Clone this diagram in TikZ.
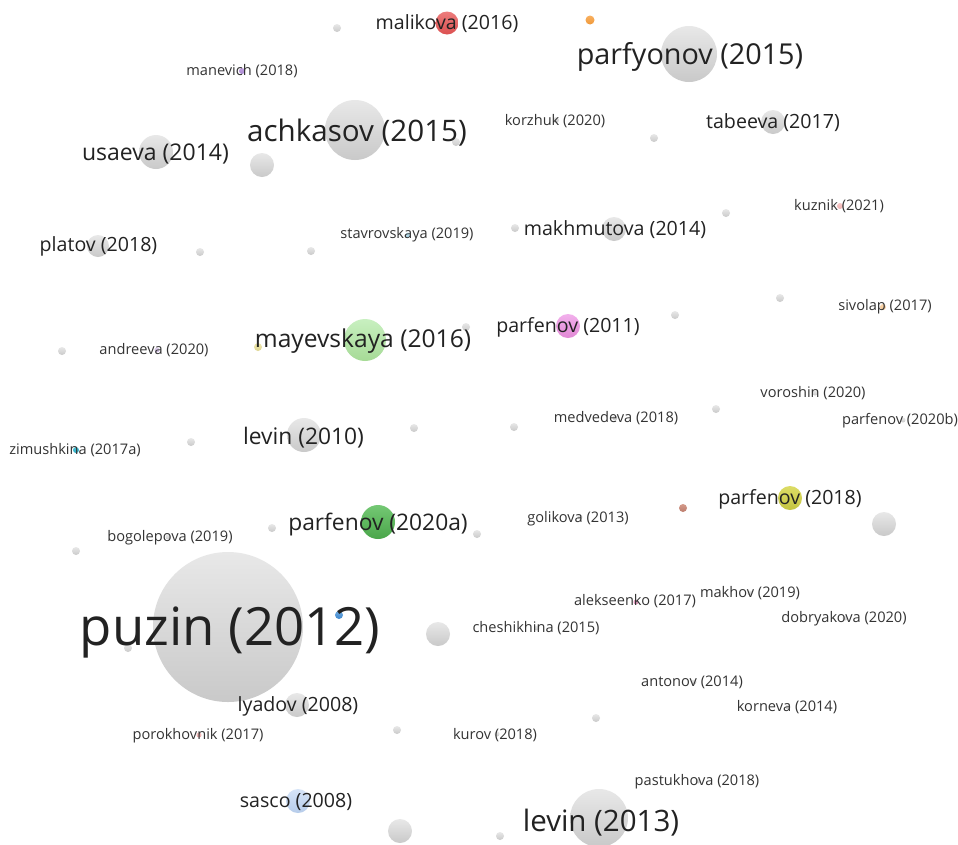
\documentclass[tikz,border=0pt]{standalone}
\usepackage{fontspec}
\setmainfont{Open Sans}
\definecolor{gTop}{HTML}{E8E8E8}
\definecolor{gBot}{HTML}{C9C9C9}
\definecolor{txtBig}{HTML}{222222}
\definecolor{txtSmall}{HTML}{333333}
\definecolor{mayT}{HTML}{C8F0C0}\definecolor{mayB}{HTML}{A6DA96}
\definecolor{yelT}{HTML}{EEE8B0}\definecolor{yelB}{HTML}{DED490}
\definecolor{andT}{HTML}{E0D0EE}\definecolor{andB}{HTML}{D0BEE2}
\definecolor{zimT}{HTML}{50C8DC}\definecolor{zimB}{HTML}{28A8C0}
\definecolor{p18T}{HTML}{DCDC66}\definecolor{p18B}{HTML}{C4C440}
\definecolor{brT}{HTML}{D49A8A}\definecolor{brB}{HTML}{BC7C6C}
\definecolor{p20T}{HTML}{74C874}\definecolor{p20B}{HTML}{4AA64A}
\definecolor{blT}{HTML}{6AA8E0}\definecolor{blB}{HTML}{3E86CC}
\definecolor{alT}{HTML}{E8A8C8}\definecolor{alB}{HTML}{D890B4}
\definecolor{poT}{HTML}{F4C0C0}\definecolor{poB}{HTML}{E8A8A8}
\definecolor{saT}{HTML}{D6E4F8}\definecolor{saB}{HTML}{B6CCEA}
\definecolor{maT}{HTML}{EC7C7C}\definecolor{maB}{HTML}{DC5050}
\definecolor{orT}{HTML}{F8B060}\definecolor{orB}{HTML}{F09838}
\definecolor{mvT}{HTML}{C0A0E0}\definecolor{mvB}{HTML}{A888D0}
\definecolor{kuT}{HTML}{F8C8C8}\definecolor{kuB}{HTML}{F0B0B0}
\definecolor{stT}{HTML}{C0E4F0}\definecolor{stB}{HTML}{A8D4E8}
\definecolor{siT}{HTML}{FAD8B0}\definecolor{siB}{HTML}{F4C490}
\definecolor{p11T}{HTML}{F2B0EC}\definecolor{p11B}{HTML}{E088D4}
\tikzset{
  bub/.style={circle, inner sep=0pt, draw=none, minimum size=#1},
  gbub/.style={bub=#1, top color=gTop, bottom color=gBot},
  cbub/.style n args={3}{bub=#1, top color=#2, bottom color=#3},
  lbl/.style={inner sep=0pt, text=txtBig, font=\fontsize{#1}{#1}\selectfont, yshift=-0.1*#1pt},
  slbl/.style={inner sep=0pt, text=txtSmall, font=\fontsize{14.6}{15}\selectfont, yshift=-1.5pt},
}
\begin{document}
\begin{tikzpicture}[x=1pt,y=-1pt]
\useasboundingbox[fill=white] (0,0) rectangle (958,844);
% ---- bubbles ----
\node[gbub=8pt] (d1) at (337,28) {};
\node[cbub={23pt}{maT}{maB}] (malikovaC) at (447,23) {};
\node[cbub={9pt}{orT}{orB}] (orangeC) at (590,20) {};
\node[gbub=56pt] (parfyonovC) at (689,54) {};
\node[cbub={6pt}{mvT}{mvB}] (manevichC) at (242,71) {};
\node[gbub=60pt] (achkasovC) at (355,130) {};
\node[gbub=8pt] (d2) at (456,142) {};
\node[gbub=6pt] (korzhukC) at (556,120) {};
\node[gbub=8pt] (d3) at (654,138) {};
\node[gbub=24pt] (tabeevaC) at (773,122) {};
\node[gbub=34pt] (usaevaC) at (156,152) {};
\node[gbub=24pt] (g1) at (262,165) {};
\node[cbub={6pt}{kuT}{kuB}] (kuznikC) at (840,206) {};
\node[gbub=8pt] (d4) at (726,213) {};
\node[cbub={5pt}{stT}{stB}] (stavrovskayaC) at (408,235) {};
\node[gbub=8pt] (d5) at (515,228) {};
\node[gbub=24pt] (makhmutovaC) at (614,229) {};
\node[gbub=22pt] (platovC) at (98,246) {};
\node[gbub=8pt] (d6) at (200,252) {};
\node[gbub=8pt] (d7) at (311,251) {};
\node[gbub=8pt] (d8) at (780,298) {};
\node[cbub={6pt}{siT}{siB}] (sivolapC) at (883,307) {};
\node[cbub={24pt}{p11T}{p11B}] (parfenovAC) at (568,326) {};
\node[gbub=8pt] (d9) at (675,315) {};
\node[gbub=8pt] (d10) at (466,327) {};
\node[cbub={42pt}{mayT}{mayB}] (mayevskayaC) at (365,340) {};
\node[cbub={8pt}{yelT}{yelB}] (yellowC) at (258,347) {};
\node[cbub={5pt}{andT}{andB}] (andreevaC) at (157,350) {};
\node[gbub=8pt] (d11) at (62,351) {};
\node[gbub=5pt] (voroshinC) at (815,393) {};
\node[gbub=8pt] (d12) at (716,409) {};
\node[gbub=5pt] (medvedevaC) at (615,418) {};
\node[gbub=5pt] (parfenovBC) at (903,420) {};
\node[gbub=8pt] (d13) at (514,427) {};
\node[gbub=8pt] (d14) at (414,428) {};
\node[gbub=8pt] (d15) at (191,442) {};
\node[gbub=34pt] (levinAC) at (304,435) {};
\node[cbub={6pt}{zimT}{zimB}] (zimushkinaC) at (76,450) {};
\node[cbub={24pt}{p18T}{p18B}] (parfenovCC) at (790,498) {};
\node[cbub={8pt}{brT}{brB}] (brownC) at (683,508) {};
\node[gbub=5pt] (golikovaC) at (580,517) {};
\node[gbub=24pt] (g2) at (884,524) {};
\node[cbub={34pt}{p20T}{p20B}] (parfenovDC) at (378,522) {};
\node[gbub=8pt] (d16) at (272,528) {};
\node[gbub=8pt] (d17) at (477,534) {};
\node[gbub=5pt] (bogolepovaC) at (168,537) {};
\node[gbub=8pt] (d18) at (76,551) {};
\node[gbub=150pt] (puzinC) at (228,627) {};
\node[cbub={8pt}{blT}{blB}] (blueC) at (339,615) {};
\node[gbub=8pt] (d19) at (128,648) {};
\node[gbub=24pt] (g3) at (438,634) {};
\node[gbub=5pt] (cheshikhinaC) at (537,628) {};
\node[cbub={5pt}{alT}{alB}] (alekseenkoC) at (636,602) {};
\node[gbub=5pt] (makhovC) at (750,593) {};
\node[gbub=5pt] (dobryakovaC) at (845,618) {};
\node[gbub=5pt] (antonovC) at (694,682) {};
\node[gbub=5pt] (kornevaC) at (788,707) {};
\node[gbub=24pt] (lyadovC) at (297,705) {};
\node[cbub={5pt}{poT}{poB}] (porokhovnikC) at (199,735) {};
\node[gbub=8pt] (d20) at (397,730) {};
\node[gbub=5pt] (kurovC) at (497,734) {};
\node[gbub=8pt] (d21) at (596,718) {};
\node[gbub=5pt] (pastukhovaC) at (698,781) {};
\node[cbub={24pt}{saT}{saB}] (sascoC) at (298,801) {};
\node[gbub=24pt] (g4) at (400,831) {};
\node[gbub=58pt] (levinBC) at (599,818) {};
\node[gbub=8pt] (d22) at (500,836) {};
% ---- labels ----
\node[lbl=19.6] (malikovaL) at (447,22) {malikova (2016)};
\node[slbl] (manevichL) at (242,70) {manevich (2018)};
\node[lbl=28.8] (parfyonovL) at (690,54) {parfyonov (2015)};
\node[lbl=29.6] (achkasovL) at (357,130) {achkasov (2015)};
\node[slbl] (korzhukL) at (555,120) {korzhuk (2020)};
\node[lbl=19.6] (tabeevaL) at (773,121) {tabeeva (2017)};
\node[lbl=23] (usaevaL) at (155.5,152) {usaeva (2014)};
\node[slbl] (kuznikL) at (839,205) {kuznik (2021)};
\node[slbl] (stavrovskayaL) at (407,233) {stavrovskaya (2019)};
\node[lbl=19.6] (makhmutovaL) at (615,228) {makhmutova (2014)};
\node[lbl=19.6] (platovL) at (98.5,244) {platov (2018)};
\node[slbl] (sivolapL) at (885,305) {sivolap (2017)};
\node[lbl=19.6] (parfenovAL) at (568,325) {parfenov (2011)};
\node[lbl=24.6] (mayevskayaL) at (363,339) {mayevskaya (2016)};
\node[slbl] (andreevaL) at (154,349) {andreeva (2020)};
\node[slbl] (voroshinL) at (813,392) {voroshin (2020)};
\node[slbl] (medvedevaL) at (616,417) {medvedeva (2018)};
\node[slbl] (parfenovBL) at (900,419) {parfenov (2020b)};
\node[lbl=22.8] (levinAL) at (303.5,435) {levin (2010)};
\node[slbl] (zimushkinaL) at (75,449) {zimushkina (2017a)};
\node[lbl=19.6] (parfenovCL) at (790,497) {parfenov (2018)};
\node[slbl] (golikovaL) at (578,517) {golikova (2013)};
\node[lbl=22.8] (parfenovDL) at (378,522) {parfenov (2020a)};
\node[slbl] (bogolepovaL) at (170,536) {bogolepova (2019)};
\node[lbl=52.7] (puzinL) at (230,627) {puzin (2012)};
\node[slbl] (cheshikhinaL) at (536,627) {cheshikhina (2015)};
\node[slbl] (alekseenkoL) at (635,600) {alekseenko (2017)};
\node[slbl] (makhovL) at (750,592) {makhov (2019)};
\node[slbl] (dobryakovaL) at (844,617) {dobryakova (2020)};
\node[slbl] (antonovL) at (692,681) {antonov (2014)};
\node[slbl] (kornevaL) at (787,706) {korneva (2014)};
\node[lbl=19.6] (lyadovL) at (298,704) {lyadov (2008)};
\node[slbl] (porokhovnikL) at (198,734) {porokhovnik (2017)};
\node[slbl] (kurovL) at (495,734) {kurov (2018)};
\node[lbl=19.6] (sascoL) at (296,800) {sasco (2008)};
\node[slbl] (pastukhovaL) at (697,780) {pastukhova (2018)};
\node[lbl=29.5] (levinBL) at (601,820) {levin (2013)};
\end{tikzpicture}
\end{document}
